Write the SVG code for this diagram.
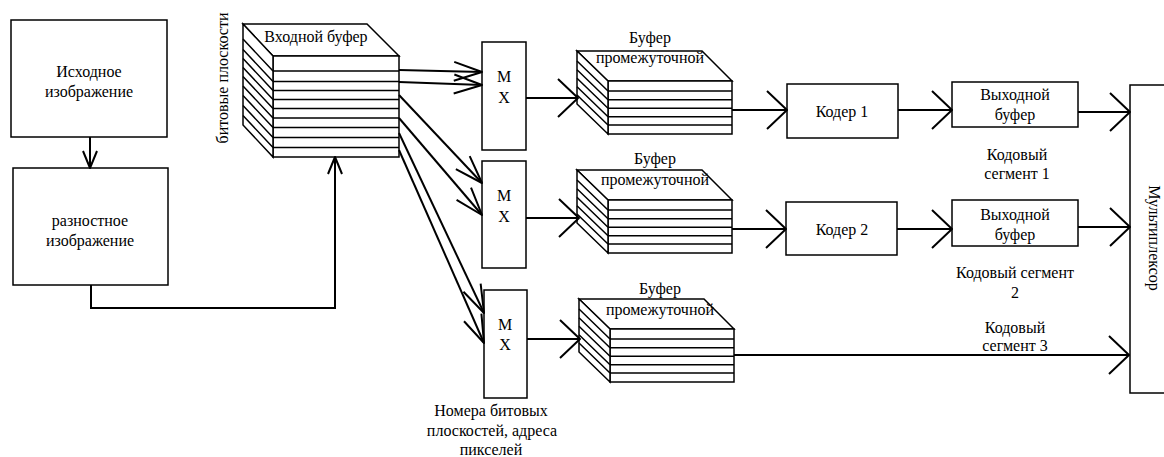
<svg xmlns="http://www.w3.org/2000/svg" width="1164" height="457" viewBox="0 0 1164 457" font-family="'Liberation Serif', 'Times New Roman', 'DejaVu Serif', serif" font-size="16">
  <style>
    .box { fill: #fff; stroke: #000; stroke-width: 1.5; }
    .ln { fill: none; stroke: #000; stroke-width: 1.5; }
    .wire { fill: none; stroke: #000; stroke-width: 2; }
    .t { font-family: 'Liberation Serif', 'Times New Roman', 'DejaVu Serif', serif; font-size: 16px; fill: #000; }
    .c { text-anchor: middle; }
  </style>
  <defs>
    <!-- open chevron heads -->
    <marker id="ah-wide" markerUnits="userSpaceOnUse" viewBox="-24 -22 28 44" markerWidth="28" markerHeight="44" refX="0" refY="0" orient="auto" overflow="visible">
      <path d="M-20,-19 L0,0 L-20,19" fill="none" stroke="#000" stroke-width="2" stroke-linejoin="round"/>
    </marker>
    <marker id="ah-narrow" markerUnits="userSpaceOnUse" viewBox="-32 -12 36 24" markerWidth="36" markerHeight="24" refX="0" refY="0" orient="auto" overflow="visible">
      <path d="M-28,-9.5 L0,0 L-28,9.5" fill="none" stroke="#000" stroke-width="2" stroke-linejoin="round"/>
    </marker>
    <marker id="ah-small" markerUnits="userSpaceOnUse" viewBox="-20 -9 24 18" markerWidth="24" markerHeight="18" refX="0" refY="0" orient="auto" overflow="visible">
      <path d="M-17,-7 L0,0 L-17,7" fill="none" stroke="#000" stroke-width="2" stroke-linejoin="round"/>
    </marker>
    <!-- layered intermediate buffer, origin at front top-left corner -->
    <g id="stack-mid">
      <polygon class="box" points="-31,-30 94,-30 124,0 0,0"/>
      <rect class="box" x="0" y="0" width="124" height="53"/>
      <polygon class="box" points="-31,-30 0,0 0,53 -31,23"/>
      <path class="ln" d="M0,10 H124 M0,18.7 H124 M0,27.3 H124 M0,35.7 H124 M0,44 H124"/>
      <path class="ln" d="M0,10 L-31,-20 M0,18.7 L-31,-11.3 M0,27.3 L-31,-2.7 M0,35.7 L-31,5.7 M0,44 L-31,14"/>
    </g>
  </defs>

  <!-- source image -->
  <g id="node-source">
    <rect class="box" x="11" y="20" width="156" height="117"/>
    <text class="t c" x="89" y="77">Исходное</text>
    <text class="t c" x="89" y="97">изображение</text>
  </g>

  <!-- difference image -->
  <g id="node-diff">
    <rect class="box" x="13" y="168" width="155" height="117"/>
    <text class="t c" x="90" y="226">разностное</text>
    <text class="t c" x="90" y="246">изображение</text>
  </g>

  <!-- input buffer (bit planes) -->
  <g id="node-input-buffer">
    <polygon class="box" points="243,24 367,24 399,56 273,56"/>
    <rect class="box" x="273" y="56" width="126" height="101"/>
    <polygon class="box" points="243,24 273,56 273,157 243,125"/>
    <path class="ln" d="M273,71 H399 M273,81.5 H399 M273,90.5 H399 M273,99.5 H399 M273,108.5 H399 M273,118 H399 M273,127.5 H399 M273,137.5 H399 M273,147.5 H399"/>
    <path class="ln" d="M273,71 L243,39 M273,81.5 L243,49.5 M273,90.5 L243,58.5 M273,99.5 L243,67.5 M273,108.5 L243,76.5 M273,118 L243,86 M273,127.5 L243,95.5 M273,137.5 L243,105.5 M273,147.5 L243,115.5"/>
    <text class="t c" x="316" y="42">Входной буфер</text>
    <text class="t c" transform="translate(228,78) rotate(-90)">битовые плоскости</text>
  </g>

  <!-- multiplexers per bit-plane group -->
  <g id="node-mx1">
    <rect class="box" x="482" y="42" width="44" height="108"/>
    <text class="t c" x="504" y="82">M</text>
    <text class="t c" x="504" y="103">X</text>
  </g>
  <g id="node-mx2">
    <rect class="box" x="482" y="161" width="44" height="107"/>
    <text class="t c" x="504" y="201">M</text>
    <text class="t c" x="504" y="222">X</text>
  </g>
  <g id="node-mx3">
    <rect class="box" x="484" y="290" width="43" height="108"/>
    <text class="t c" x="505" y="330">M</text>
    <text class="t c" x="505" y="350">X</text>
    <text class="t c" x="491" y="416">Номера битовых</text>
    <text class="t c" x="492" y="436">плоскостей, адреса</text>
    <text class="t c" x="491" y="455">пикселей</text>
  </g>

  <!-- intermediate buffers -->
  <g id="node-buf1">
    <use href="#stack-mid" transform="translate(608,81)"/>
    <text class="t c" x="650" y="43">Буфер</text>
    <text class="t c" x="650" y="63">промежуточной</text>
  </g>
  <g id="node-buf2">
    <use href="#stack-mid" transform="translate(608,200)"/>
    <text class="t c" x="655" y="164">Буфер</text>
    <text class="t c" x="655" y="185">промежуточной</text>
  </g>
  <g id="node-buf3">
    <use href="#stack-mid" transform="translate(610,329)"/>
    <text class="t c" x="660" y="294">Буфер</text>
    <text class="t c" x="660" y="315">промежуточной</text>
  </g>

  <!-- coders -->
  <g id="node-coder1">
    <rect class="box" x="787" y="84" width="111" height="54"/>
    <text class="t c" x="842" y="117">Кодер 1</text>
  </g>
  <g id="node-coder2">
    <rect class="box" x="786" y="202" width="111" height="53"/>
    <text class="t c" x="842" y="235">Кодер 2</text>
  </g>

  <!-- output buffers -->
  <g id="node-outbuf1">
    <rect class="box" x="952" y="82" width="126" height="45"/>
    <text class="t c" x="1015" y="100">Выходной</text>
    <text class="t c" x="1015" y="120">буфер</text>
  </g>
  <g id="node-outbuf2">
    <rect class="box" x="952" y="200" width="126" height="46"/>
    <text class="t c" x="1015" y="220">Выходной</text>
    <text class="t c" x="1015" y="240">буфер</text>
  </g>

  <!-- multiplexer -->
  <g id="node-mux">
    <rect class="box" x="1130" y="85" width="40" height="308"/>
    <text class="t c" transform="translate(1149,238) rotate(90)">Мультиплексор</text>
  </g>

  <!-- code segment labels -->
  <g id="labels">
    <text class="t c" x="1017" y="160">Кодовый</text>
    <text class="t c" x="1017" y="179">сегмент 1</text>
    <text class="t c" x="1015" y="278">Кодовый сегмент</text>
    <text class="t c" x="1015" y="298">2</text>
    <text class="t c" x="1015" y="333">Кодовый</text>
    <text class="t c" x="1015" y="351">сегмент 3</text>
  </g>

  <!-- connectors -->
  <g id="connectors">
    <line class="wire" x1="90" y1="137" x2="90" y2="168" marker-end="url(#ah-small)"/>
    <polyline class="wire" points="91,285 91,308 335,308 335,157" marker-end="url(#ah-small)"/>

    <line class="wire" x1="399" y1="70" x2="482" y2="72" marker-end="url(#ah-narrow)"/>
    <line class="wire" x1="399" y1="82" x2="482" y2="85" marker-end="url(#ah-narrow)"/>
    <line class="wire" x1="399" y1="95" x2="482" y2="183" marker-end="url(#ah-narrow)"/>
    <line class="wire" x1="399" y1="118" x2="482" y2="215" marker-end="url(#ah-narrow)"/>
    <line class="wire" x1="399" y1="133" x2="484" y2="313" marker-end="url(#ah-narrow)"/>
    <line class="wire" x1="399" y1="150" x2="484" y2="343" marker-end="url(#ah-narrow)"/>

    <line class="wire" x1="526" y1="98" x2="578" y2="98" marker-end="url(#ah-wide)"/>
    <line class="wire" x1="526" y1="218" x2="579" y2="218" marker-end="url(#ah-wide)"/>
    <line class="wire" x1="527" y1="339" x2="580" y2="339" marker-end="url(#ah-wide)"/>

    <line class="wire" x1="732" y1="110" x2="787" y2="110" marker-end="url(#ah-wide)"/>
    <line class="wire" x1="732" y1="229" x2="786" y2="229" marker-end="url(#ah-wide)"/>

    <line class="wire" x1="898" y1="110" x2="952" y2="110" marker-end="url(#ah-wide)"/>
    <line class="wire" x1="897" y1="229" x2="952" y2="229" marker-end="url(#ah-wide)"/>

    <line class="wire" x1="1078" y1="112" x2="1130" y2="112" marker-end="url(#ah-wide)"/>
    <line class="wire" x1="1078" y1="227" x2="1130" y2="227" marker-end="url(#ah-wide)"/>
    <line class="wire" x1="734" y1="355" x2="1129" y2="355" marker-end="url(#ah-wide)"/>
  </g>
</svg>
